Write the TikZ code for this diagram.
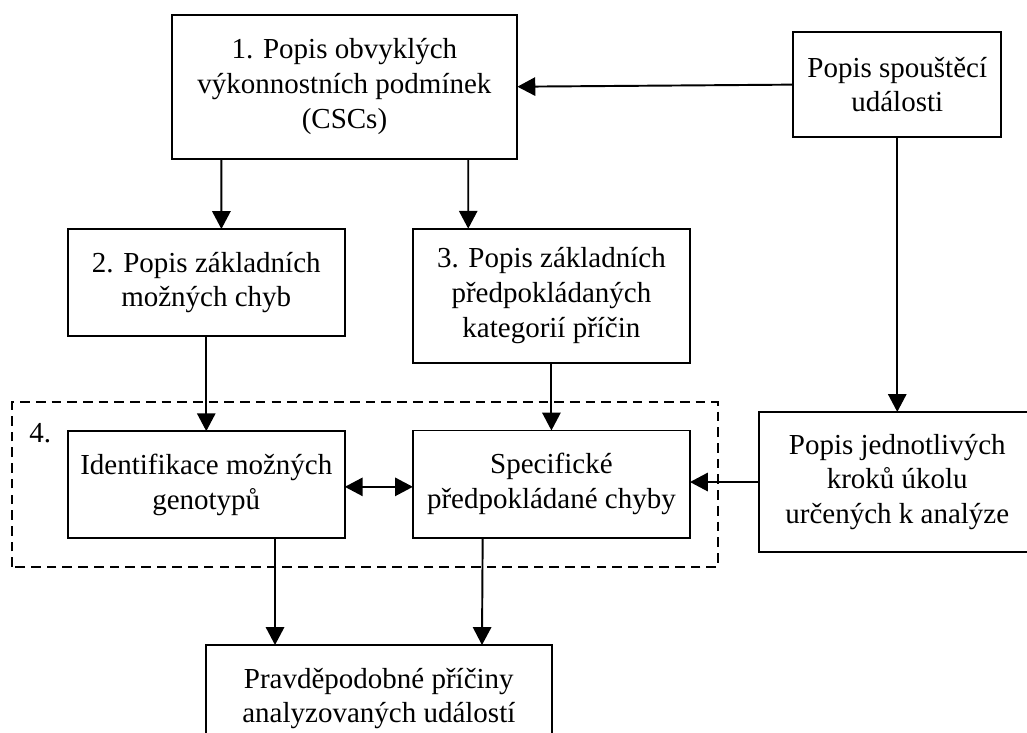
\documentclass[tikz,border=0pt]{standalone}
\usepackage{fontspec}
\setmainfont{Liberation Serif}
\usepackage{tikz}
\usetikzlibrary{arrows.meta}
\tikzset{
    box/.style={draw, thick, align=center, inner sep=0pt, outer sep=0pt, font=\fontsize{12}{14.4}\selectfont},
    wide/.style={box, minimum width=5.03cm},
    narrow/.style={box, minimum width=4.03cm},
    arr/.style={thick, -{Triangle[length=7.4pt,width=7.6pt]}},
    arrr/.style={thick, {Triangle[length=7.4pt,width=7.6pt]}-{Triangle[length=7.4pt,width=7.6pt]}}
}
\begin{document}
        \begin{tikzpicture}
            \useasboundingbox (0,0) rectangle (14.937,10.661);
            \clip (0,0) rectangle (14.937,10.661);

            \node[wide, minimum height=2.09cm] (csc) at (5.01,9.40) {1. Popis obvyklých\\výkonnostních podmínek\\(CSCs)};
            \node[box, minimum width=3.03cm, minimum height=1.53cm] (spoust) at (13.05,9.43) {Popis spouštěcí\\události};
            \node[narrow, minimum height=1.56cm] (chyby) at (3.00,6.55) {2. Popis základních\\možných chyb};
            \node[narrow, minimum height=1.95cm] (kategorie) at (8.02,6.36) {3. Popis základních\\předpokládaných\\kategorií příčin};
            \node[narrow, minimum height=1.56cm] (genotypy) at (3.00,3.61) {Identifikace možných\\genotypů};
            \node[narrow, minimum height=1.56cm] (specif) at (8.02,3.62) {Specifické\\předpokládané chyby};
            \node[narrow, minimum height=2.04cm] (kroky) at (13.05,3.65) {Popis jednotlivých\\kroků úkolu\\určených k analýze};
            \node[wide, minimum height=1.56cm] (priciny) at (5.51,0.50) {Pravděpodobné příčiny\\analyzovaných událostí};

            % skupina 4
            \draw[thick, dash pattern=on 4pt off 2.5pt] (0.175,2.414) rectangle (10.44,4.808);
            \node[anchor=west, inner sep=0pt, font=\fontsize{12}{14.4}\selectfont] (ctyri) at (0.42,4.36) {4.};

            \draw[arr] (spoust.west) -- (csc.east);
            \draw[arr] ([xshift=-1.79cm]csc.south) -- ([xshift=0.22cm]chyby.north);
            \draw[arr] ([xshift=1.80cm]csc.south) -- ([xshift=-1.21cm]kategorie.north);
            \draw[arr] (chyby.south) -- (genotypy.north);
            \draw[arr] (kategorie.south) -- (specif.north);
            \draw[arr] (spoust.south) -- (kroky.north);
            \draw[arr] (kroky.west) -- (kroky.west -| specif.east);
            \draw[arrr] ([yshift=-0.03cm]genotypy.east) -- ([yshift=-0.03cm]genotypy.east -| specif.west);
            \draw[arr] ([xshift=1.0cm]genotypy.south) -- ([xshift=-1.51cm]priciny.north);
            \draw[arr] ([xshift=-1.0cm]specif.south) -- ([xshift=1.50cm]priciny.north);
        \end{tikzpicture}
\end{document}
